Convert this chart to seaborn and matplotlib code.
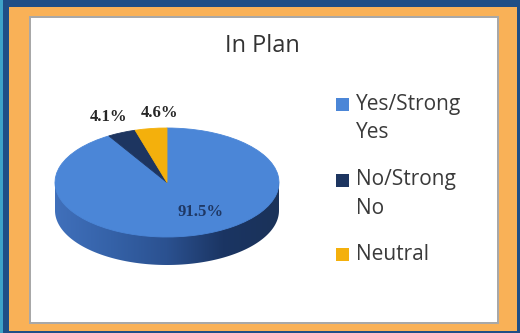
import numpy as np
import matplotlib
matplotlib.use("Agg")
import matplotlib.pyplot as plt
from matplotlib.patches import Rectangle, Polygon
import seaborn as sns

# ---- data ----
title = "In Plan"
categories = ["Yes/Strong\nYes", "No/Strong\nNo", "Neutral"]
values = [91.5, 4.1, 4.6]
colors = ["#4b86d7", "#1d3560", "#f4b00c"]
label_colors = ["#1f3864", "#262626", "#262626"]

sns.set_theme(style="white")
plt.rcParams["font.family"] = ["Open Sans", "DejaVu Sans"]

W, H = 520, 333
fig = plt.figure(figsize=(W / 100, H / 100), dpi=100)
fig.patch.set_facecolor("#1f4e86")


def box(x0, y0, x1, y1, **kw):
    r = Rectangle((x0 / W, 1 - y1 / H), (x1 - x0) / W, (y1 - y0) / H,
                  transform=fig.transFigure, **kw)
    fig.add_artist(r)
    return r


# frame
box(0, 0, 3, H, facecolor="#3ea3c8", edgecolor="none", zorder=0)
box(9, 7, 517, 331, facecolor="#f9b157", edgecolor="none", zorder=0)
box(29, 16, 499, 324, facecolor="#a8a8a8", edgecolor="none", zorder=0)
box(30.5, 17.5, 497, 322, facecolor="#ffffff", edgecolor="none", zorder=0)

# ---- pie (3D-looking via squashed axes + side band) ----
cx, cy, rx, ry, depth = 167, 182.5, 112, 54.5, 28
ax0, ay0, ax1, ay1 = 47, 120, 287, 280
ax = fig.add_axes([ax0 / W, 1 - ay1 / H, (ax1 - ax0) / W, (ay1 - ay0) / H])
ax.patch.set_alpha(0)

ax.pie(values, colors=colors, startangle=90, counterclock=False,
       wedgeprops=dict(linewidth=0.6, edgecolor="none"))
for w, c in zip(ax.patches, colors):
    w.set_edgecolor(c)

d = depth / ry
t = np.linspace(np.pi, 2 * np.pi, 200)
side_pts = np.column_stack([np.cos(t), np.sin(t) - d])
side_pts = np.vstack([side_pts, [[1, 0], [-1, 0]]])
clip = Polygon(side_pts, closed=True, facecolor="none", edgecolor="none",
               transform=ax.transData)
ax.add_patch(clip)
cmap = sns.blend_palette(["#4070bb", "#3562a8", "#2b5190", "#1b3563", "#1a3259"],
                         as_cmap=True)
grad = np.tile(np.linspace(0, 1, 256), (32, 1))
im = ax.imshow(grad, extent=(-1, 1, -1 - d, 0), cmap=cmap, aspect="auto",
               zorder=0, interpolation="bilinear")
im.set_clip_path(clip)

ax.set_aspect("auto")
ax.set_xlim((ax0 - cx) / rx, (ax1 - cx) / rx)
ax.set_ylim((cy - ay1) / ry, (cy - ay0) / ry)
ax.axis("off")

# percentage labels
label_xy = [(0.295, -0.55), (-0.518, 1.193), (-0.071, 1.284)]
for v, (lx, ly), lc in zip(values, label_xy, label_colors):
    ax.text(lx, ly, f"{v:.1f}%", ha="center", va="center", fontsize=12,
            fontweight="bold", family=["Liberation Serif", "DejaVu Serif"],
            color=lc, zorder=5)

# title
fig.text(262 / W, 1 - 46 / H, title, ha="center", va="center",
         fontsize=17, color="#333333")

# legend
entry_y = [104, 180, 254]
for cat, col, ey in zip(categories, colors, entry_y):
    box(336, ey - 6.5, 349, ey + 6.5, facecolor=col, edgecolor="none", zorder=2)
    for i, line in enumerate(cat.split("\n")):
        fig.text(356 / W, 1 - (ey + i * 29) / H, line, ha="left",
                 va="center", fontsize=15, color="#3a3a3a")

fig.savefig("out.png", dpi=100, facecolor=fig.get_facecolor())
